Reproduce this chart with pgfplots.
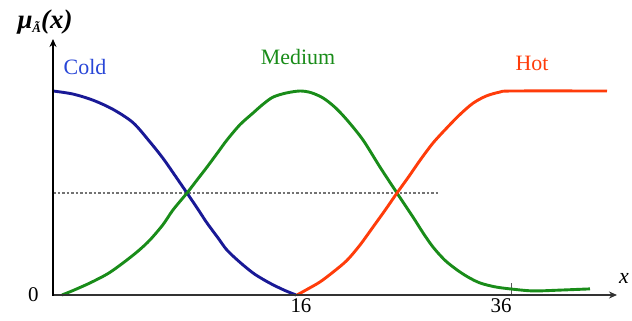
\documentclass[border=0pt]{standalone}
\usepackage{pgfplots}
\pgfplotsset{compat=1.18}
\usetikzlibrary{arrows.meta}
\usepackage{fontspec}
\setmainfont{Liberation Serif}

\definecolor{coldline}{RGB}{25,25,150}
\definecolor{coldtext}{RGB}{40,70,215}
\definecolor{medline}{RGB}{25,140,25}
\definecolor{hotline}{RGB}{255,60,10}
\newcommand\lblfont{\fontsize{22}{24}\selectfont}

\begin{document}
\begin{tikzpicture}
\useasboundingbox (0,0) rectangle (632bp,321bp);
\begin{axis}[
  at={(53bp,26bp)}, anchor=south west,
  x=1bp, y=204bp,
  xmin=0, xmax=563, ymin=0, ymax=1.25,
  axis lines=left,
  axis line style={draw=none},
  clip=false,
  xtick={458}, xticklabels={{}},
  extra x ticks={248,448}, extra x tick labels={16,36},
  extra x tick style={major tick length=0pt},
  ytick={0}, yticklabels={0},
  ytick style={draw=none},
  tick align=inside, major tick length=12bp,
  xtick style={black!65, line width=1bp},
  /pgf/number format/assume math mode=true,
  tick label style={font=\fontsize{21}{24}\selectfont},
  yticklabel style={xshift=-11bp},
]
% membership level 0.5
\addplot[black!55, line width=2.2bp, dash pattern=on 2.5bp off 2bp] coordinates {(0,0.5) (385,0.5)};

% Cold
\addplot[coldline, line width=2.9bp, smooth] coordinates {
  (0,1.0) (20,0.985) (40,0.955) (60,0.91) (80,0.845) (97,0.75)
  (110,0.67) (120,0.6) (134,0.5) (145,0.42) (154,0.353) (165,0.28)
  (174,0.22) (187,0.16) (200,0.108) (210,0.077) (220,0.05)
  (232,0.022) (243,0)};

% Medium
\addplot[medline, line width=2.9bp, smooth] coordinates {
  (9,0) (20,0.022) (37,0.059) (55,0.105) (70,0.157) (85,0.215)
  (97,0.27) (110,0.345) (120,0.417) (134,0.5) (145,0.57) (154,0.627)
  (165,0.70) (174,0.76) (187,0.835) (200,0.892) (210,0.935)
  (220,0.97) (233,0.99) (247,1.0) (258,0.992) (270,0.966) (282,0.92)
  (294,0.858) (310,0.76) (327,0.627) (344,0.5) (360,0.382) (370,0.305)
  (380,0.235) (392,0.17) (404,0.123) (415,0.088) (427,0.059)
  (442,0.04) (457,0.03) (480,0.02) (507,0.024) (537,0.03)};

% Hot
\addplot[hotline, line width=2.9bp, smooth] coordinates {
  (244,0) (255,0.03) (267,0.064) (280,0.112) (294,0.17) (307,0.245)
  (320,0.333) (332,0.415) (344,0.5) (356,0.582) (367,0.66) (380,0.745)
  (394,0.82) (407,0.885) (420,0.94) (433,0.975) (447,0.995) (460,1.0)
  (554,1.0)};
\end{axis}
% heavy axis arrows
\draw[line width=2.6bp, black!80, -{Stealth[length=8bp,width=7bp]}] (52bp,26bp) -- (617bp,26bp);
\draw[line width=2.6bp, black, -{Stealth[length=8bp,width=7bp]}] (53bp,25bp) -- (53bp,282bp);
% set names and axis titles
\node[coldtext, font=\lblfont] at (85bp,254bp) {Cold};
\node[medline, font=\lblfont] at (298bp,264bp) {Medium};
\node[hotline, font=\lblfont] at (532bp,258bp) {Hot};
\node[font=\fontsize{27}{28}\selectfont\bfseries\itshape, inner sep=0pt] at (45bp,299bp)
  {μ\raisebox{-0.35ex}{\fontsize{13}{14}\selectfont Ã}(x)};
\node[font=\lblfont\itshape, inner sep=0pt] at (624bp,43bp) {x};
\end{tikzpicture}
\end{document}
